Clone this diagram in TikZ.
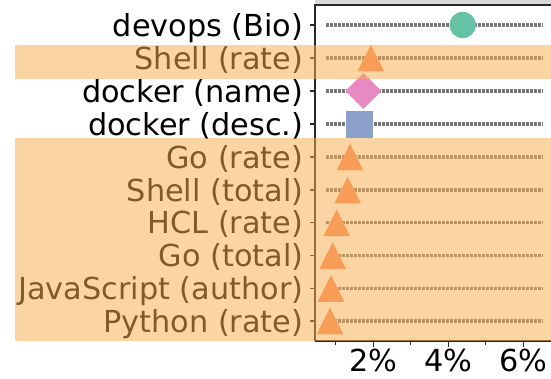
\documentclass[tikz,border=0pt]{standalone}
\usepackage{fontspec}
\setmainfont{DejaVu Sans}
\definecolor{bandc}{RGB}{246,173,77}
\definecolor{sgreen}{HTML}{66C2A5}
\definecolor{sorange}{HTML}{FC8D62}
\definecolor{spink}{HTML}{E78AC3}
\definecolor{sblue}{HTML}{8DA0CB}
\definecolor{spine}{RGB}{40,40,40}
\definecolor{gridc}{RGB}{120,120,120}
\begin{document}
\begin{tikzpicture}[x=1pt,y=-1pt,
  lbl/.style={anchor=base east, font=\fontsize{30.3}{32}\selectfont, inner sep=0pt},
  xlbl/.style={anchor=base, font=\fontsize{30.3}{32}\selectfont, inner sep=0pt},
  gridline/.style={draw=gridc, line width=3.2pt, dash pattern=on 2.6pt off 1.4pt},
  axisline/.style={draw=spine, line width=1.6pt},
  tickline/.style={draw=spine, line width=1.2pt},
  tri/.style={fill=sorange},
  bandbox/.style={fill=bandc, fill opacity=0.52}]
\useasboundingbox (0,0) rectangle (551,378);
% top strip
\fill[gray!30] (315,0) rectangle (551,4);
% grid lines
\foreach \y in {25,58,91,124,157,190,222.7,255.5,288.5,321}{
  \draw[gridline] (326,\y) -- (543.3,\y);
  \draw[tickline] (310,\y) -- (315,\y);
}
% axes
\draw[axisline] (315,341) -- (315,5) -- (551,5);
\draw[axisline] (315,341) -- (551,341);
% x ticks
\foreach \x in {373.3,448.3,523.3}{\draw[tickline] (\x,341) -- (\x,346.5);}
\foreach \x in {335.8,410.8,485.8}{\draw[tickline] (\x,341) -- (\x,344.5);}
\node[xlbl] (t2) at (373.3,371) {2\%};
\node[xlbl] (t4) at (448.3,371) {4\%};
\node[xlbl] (t6) at (523.3,371) {6\%};
% markers
\fill[sgreen] (462.7,25) circle (13.2);
\fill[tri] (370.8,44.7) -- (384.1,71.3) -- (357.5,71.3) -- cycle;
\fill[spink] (363.3,73) -- (381.3,91) -- (363.3,109) -- (345.3,91) -- cycle;
\fill[sblue] (345.7,110.5) rectangle (372.7,137.5);
\foreach \x/\y in {350/157,347.7/190,336.7/222.7,332.7/255.5,331/288.5,330/321}{
  \fill[tri] (\x,\y-13.3) -- (\x+13.3,\y+13.3) -- (\x-13.3,\y+13.3) -- cycle;
}
% labels
\node[lbl] (l0) at (303.5,36) {devops (Bio)};
\node[lbl] (l1) at (303.5,69) {Shell (rate)};
\node[lbl] (l2) at (303.5,102) {docker (name)};
\node[lbl] (l3) at (303.5,135) {docker (desc.)};
\node[lbl] (l4) at (303.5,168) {Go (rate)};
\node[lbl] (l5) at (303.5,201) {Shell (total)};
\node[lbl] (l6) at (303.5,233.7) {HCL (rate)};
\node[lbl] (l7) at (303.5,266.5) {Go (total)};
\node[lbl] (l8) at (303.5,299.5) {JavaScript (author)};
\node[lbl] (l9) at (303.5,332) {Python (rate)};
% highlight bands
\fill[bandbox] (15,45) rectangle (551,78.5);
\fill[bandbox] (15,138) rectangle (551,340.7);
\end{tikzpicture}
\end{document}
